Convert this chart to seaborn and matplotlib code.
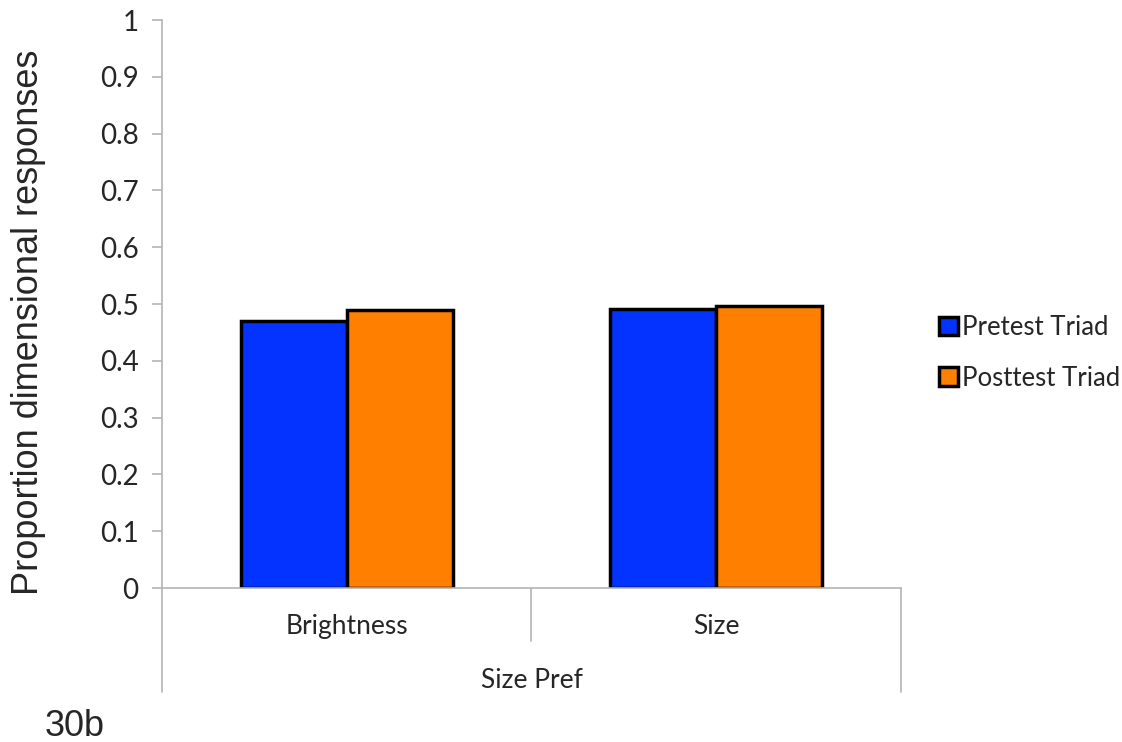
import pandas as pd
import matplotlib.pyplot as plt
import matplotlib.transforms as mtransforms
import seaborn as sns

# data
categories = ['Brightness', 'Size']
pretest = [0.470, 0.491]
posttest = [0.489, 0.496]
series_names = ['Pretest Triad', 'Posttest Triad']
group_label = 'Size Pref'
y_ticks = [0, 0.1, 0.2, 0.3, 0.4, 0.5, 0.6, 0.7, 0.8, 0.9, 1]
y_tick_labels = ['0', '0.1', '0.2', '0.3', '0.4', '0.5', '0.6', '0.7', '0.8', '0.9', '1']

df = pd.DataFrame({
    'Category': categories * 2,
    'Series': [series_names[0]] * 2 + [series_names[1]] * 2,
    'Value': pretest + posttest,
})

sns.set_style('white')
plt.rcParams['font.family'] = ['Lato', 'DejaVu Sans']

fig = plt.figure(figsize=(11.22, 7.42), dpi=100)
ax = fig.add_axes([0.1444, 0.2075, 0.6586, 0.7655])

palette = {series_names[0]: '#0433FF', series_names[1]: '#FF7F00'}
sns.barplot(data=df, x='Category', y='Value', hue='Series', order=categories,
            hue_order=series_names, palette=palette, width=0.575,
            edgecolor='black', linewidth=2.5, saturation=1, ax=ax)

ax.set_xlim(-0.5, 1.5)
ax.set_ylim(0, 1)
ax.set_yticks(y_ticks)
ax.set_yticklabels(y_tick_labels, fontsize=20)
ax.set_xticks([])
ax.set_xlabel('')
ax.set_ylabel('Proportion dimensional responses', fontsize=26,
              family=['Liberation Sans', 'DejaVu Sans'])
ax.yaxis.set_label_coords(-0.157, 0.468)

grey = '#b4b4b4'
for side in ['top', 'right']:
    ax.spines[side].set_visible(False)
for side in ['left', 'bottom']:
    ax.spines[side].set_color(grey)
    ax.spines[side].set_linewidth(1.2)
ax.tick_params(axis='y', which='both', left=True, length=7, width=1.2, color=grey, pad=10)

# two-level category axis below the plot
trans = mtransforms.blended_transform_factory(ax.transData, ax.transAxes)
ax.plot([0.5, 0.5], [0, -0.093], transform=trans, color=grey, lw=1.2, clip_on=False)
for xe in [-0.5, 1.5]:
    ax.plot([xe, xe], [0, -0.183], transform=trans, color=grey, lw=1.2, clip_on=False)
for i, c in enumerate(categories):
    ax.text(i, -0.068, c, transform=trans, ha='center', va='center', fontsize=19)
ax.text(0.5, -0.163, group_label, transform=trans, ha='center', va='center', fontsize=19)

leg = ax.legend(loc='center left', bbox_to_anchor=(1.02, 0.414), frameon=False,
                fontsize=18.5, handlelength=0.75, handleheight=0.75, handletextpad=0.15,
                labelspacing=1.0)
for h in leg.legend_handles:
    h.set_edgecolor('black')
    h.set_linewidth(2.5)

fig.text(0.04, 0.008, '30b', fontsize=26, family=['Liberation Sans', 'DejaVu Sans'])

fig.savefig('out.png', dpi=100)
